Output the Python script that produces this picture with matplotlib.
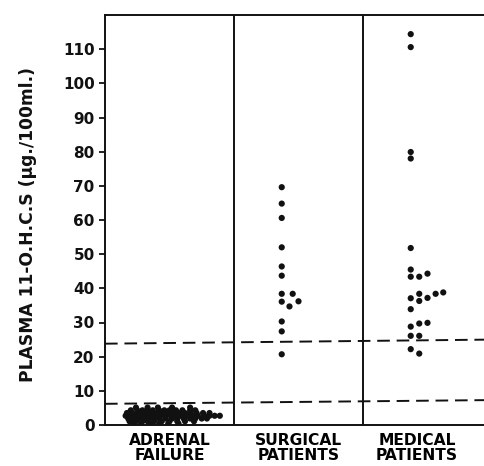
import matplotlib
matplotlib.use("Agg")
import matplotlib.pyplot as plt

# group labels and plasma 11-OHCS values (ug/100 ml)
groups = ["ADRENAL\nFAILURE", "SURGICAL\nPATIENTS", "MEDICAL\nPATIENTS"]
group_pos = [0.5, 1.5, 2.42]

surgical_x = [1.37, 1.37, 1.37, 1.37, 1.37, 1.37, 1.37, 1.455, 1.37, 1.43, 1.50, 1.37, 1.37, 1.37]
surgical_y = [69.6, 64.8, 60.6, 52.0, 46.4, 43.7, 38.4, 38.4, 36.1, 34.7, 36.2, 30.3, 27.4, 20.7]

medical_x = [2.37, 2.37, 2.37, 2.37, 2.37, 2.37, 2.37, 2.436, 2.50,
             2.37, 2.436, 2.436, 2.50, 2.563, 2.622, 2.37,
             2.37, 2.436, 2.50, 2.37, 2.436, 2.37, 2.436]
medical_y = [114.4, 110.6, 79.9, 78.0, 51.8, 45.5, 43.4, 43.4, 44.3,
             37.1, 38.4, 36.3, 37.2, 38.4, 38.8, 33.9,
             28.8, 29.7, 29.9, 26.1, 26.1, 22.2, 20.9]

# adrenal failure cluster, row by row
adrenal_x = [0.24, 0.33, 0.41, 0.52, 0.66,
             0.20, 0.25, 0.29, 0.33, 0.37, 0.42, 0.46, 0.50, 0.55, 0.60, 0.66, 0.70,
             0.17, 0.21, 0.25, 0.28, 0.32, 0.36, 0.40, 0.44, 0.48, 0.52, 0.57, 0.62, 0.66, 0.71, 0.76, 0.81,
             0.16, 0.20, 0.24, 0.27, 0.31, 0.35, 0.39, 0.43, 0.47, 0.51, 0.55, 0.59, 0.63, 0.68, 0.72,
             0.77, 0.81, 0.85, 0.89,
             0.18, 0.22, 0.26, 0.30, 0.34, 0.38, 0.42, 0.47, 0.52, 0.56, 0.61, 0.66, 0.70, 0.75, 0.79,
             0.19, 0.24, 0.29, 0.33, 0.38, 0.44, 0.50, 0.56, 0.62, 0.69,
             0.22, 0.28, 0.35, 0.42, 0.49, 0.57]
adrenal_y = ([5.1] * 5 + [4.3] * 12 + [3.5] * 16 + [2.7] * 19
             + [1.9] * 15 + [1.1] * 10 + [0.4] * 6)

# reference ranges drawn as dashed lines
upper_line = [23.8, 25.0]
lower_line = [6.2, 7.3]

ink = "#111111"
plt.rcParams["font.family"] = "DejaVu Sans"
plt.rcParams["font.weight"] = "bold"
plt.rcParams["axes.labelweight"] = "bold"

fig = plt.figure(figsize=(4.85, 4.66), dpi=100)
ax = fig.add_axes([105 / 485, 41 / 466, 387 / 485, 410 / 466])

dot = dict(s=20, color=ink, edgecolors="none", zorder=3)
ax.scatter(adrenal_x, adrenal_y, **dot)
ax.scatter(surgical_x, surgical_y, **dot)
ax.scatter(medical_x, medical_y, **dot)

dash = (0, (6.5, 3.5))
ax.plot([0, 3], upper_line, ls=dash, color=ink, lw=1.4)
ax.plot([0, 3], lower_line, ls=dash, color=ink, lw=1.4)

for xd in (1, 2):
    ax.axvline(xd, color=ink, lw=1.4)

ax.set_xlim(0, 3)
ax.set_ylim(0, 120)
ax.set_yticks(range(0, 111, 10))
ax.set_yticklabels([str(v) for v in range(0, 111, 10)], fontsize=11)
ax.set_xticks(group_pos)
ax.set_xticklabels(groups, fontsize=11.2, linespacing=1.0)
ax.tick_params(axis="x", length=0, pad=6)
ax.tick_params(axis="y", length=4.5, width=1.3, pad=3, colors=ink)

for side in ("left", "top", "bottom"):
    ax.spines[side].set_linewidth(1.4)
    ax.spines[side].set_color(ink)
ax.spines["right"].set_visible(False)

ax.set_ylabel("PLASMA 11-O.H.C.S (\u03bcg./100ml.)", fontsize=12.3, color=ink)
ax.yaxis.set_label_coords(-0.176, 0.488)

fig.savefig("out.png", dpi=100, facecolor="white")
